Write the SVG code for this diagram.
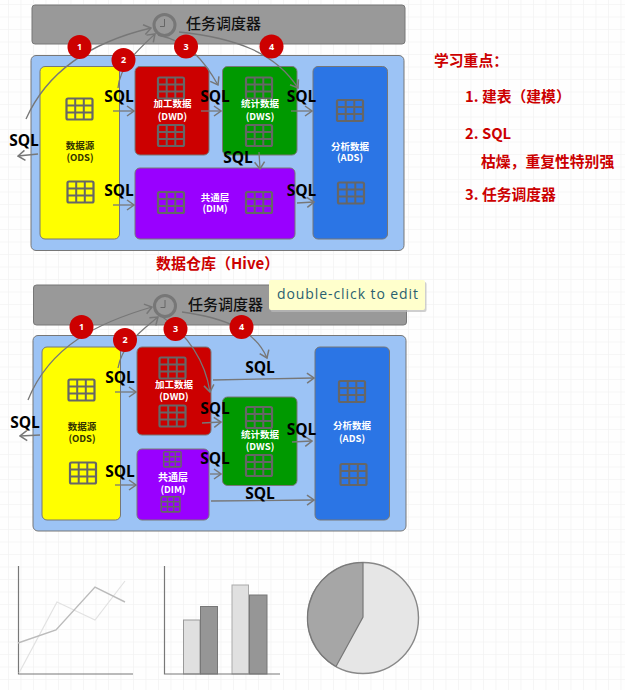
<svg xmlns="http://www.w3.org/2000/svg" xmlns:xlink="http://www.w3.org/1999/xlink" width="625" height="690" viewBox="0 0 625 690">
<style>
text{font-family:"Noto Sans CJK SC","Open Sans",sans-serif}
.box{stroke:#777;stroke-width:1}
.sql{font-family:"Open Sans","Liberation Sans",sans-serif;font-weight:700;font-size:15.500px;text-anchor:middle;fill:#000}
.lbl{font-size:9.500px;font-weight:700;text-anchor:middle;fill:#fff}
.dk{fill:#333300}
.red{font-size:14.800px;font-weight:700;fill:#CC0000}
.sch{font-size:15px;font-weight:500;fill:#111}
.num{font-size:9px;font-weight:700;fill:#fff;text-anchor:middle;font-family:"Open Sans",sans-serif}
.c{fill:none;stroke:#777;stroke-width:1.300;marker-end:url(#ah)}
.grid{fill:none;stroke:#f3f3f3;stroke-width:1.600}
</style>
<defs>
<pattern id="g" width="12.500" height="12.500" patternUnits="userSpaceOnUse" x="8" y="4"><path class="grid" d="M0 0H12.500M0 0V12.500"/></pattern>
<marker id="ah" viewBox="0 0 10 12" refX="9" refY="6" markerWidth="10" markerHeight="12" markerUnits="userSpaceOnUse" orient="auto"><path d="M2 1L9 6L2 11" fill="none" stroke="#777" stroke-width="1.500"/></marker>
<g id="tb"><rect x="1" y="1" width="26" height="21" rx="1.500" fill="none" stroke="#666" stroke-width="2.200"/><path d="M1 8H27M1 15H27M9.700 1V22M18.300 1V22" stroke="#666" stroke-width="2" fill="none"/></g>
</defs>
<rect width="625" height="690" fill="#fefefe"/>
<rect width="625" height="690" fill="url(#g)"/>

<g id="scheduler-1"><rect class="box" x="32" y="5" width="373" height="39" rx="3" fill="#999"/>
<circle cx="164.500" cy="25" r="10.500" fill="#999" stroke="#777" stroke-width="3"/><path d="M164.500 19V26.500H160" fill="none" stroke="#666" stroke-width="1"/>
<text class="sch" x="186" y="29">任务调度器</text></g>
<g id="warehouse-1"><rect class="box" x="31" y="55.500" width="373" height="195" rx="5" fill="#9CC3F5"/></g>
<g id="ods-1"><rect class="box" x="40" y="66.500" width="79.500" height="172.500" rx="5" fill="#FF0"/><use xlink:href="#tb" x="65.500" y="97.500"/><use xlink:href="#tb" x="66.500" y="180.500"/><text class="lbl dk" x="80" y="149">数据源</text><text class="lbl dk" x="80" y="161">(ODS)</text></g>
<g id="dwd-1"><rect class="box" x="135" y="66.500" width="74" height="88.500" rx="5" fill="#C00"/><use xlink:href="#tb" x="157" y="76.500"/><use xlink:href="#tb" x="157" y="124"/><text class="lbl" x="172.500" y="107">加工数据</text><text class="lbl" x="172.500" y="119.500">(DWD)</text></g>
<g id="dws-1"><rect class="box" x="222.500" y="66.500" width="74.500" height="88.500" rx="5" fill="#090"/><use xlink:href="#tb" x="245" y="76.500"/><use xlink:href="#tb" x="245" y="124"/><text class="lbl" x="260" y="107">统计数据</text><text class="lbl" x="260" y="119.500">(DWS)</text></g>
<g id="ads-1"><rect class="box" x="313" y="66.500" width="74.500" height="172.500" rx="5" fill="#2B75E5"/><use xlink:href="#tb" x="336" y="99"/><use xlink:href="#tb" x="337" y="181.500"/><text class="lbl" x="350" y="150">分析数据</text><text class="lbl" x="350" y="161">(ADS)</text></g>
<g id="dim-1"><rect class="box" x="135" y="168" width="160" height="71" rx="5" fill="#90F"/><use xlink:href="#tb" x="157" y="191"/><use xlink:href="#tb" x="245" y="191"/><text class="lbl" x="215" y="201">共通层</text><text class="lbl" x="215" y="212">(DIM)</text></g>

<g id="connectors-1">
<path class="c" d="M26 119C50 65 100 40 151 28"/>
<path class="c" d="M118 88C120 65 140 48 155 34"/>
<path class="c" d="M158 35C190 42 205 62 218 85"/>
<path class="c" d="M179 32C235 38 275 52 298 88"/>
<path class="c" d="M113 111H134"/><path class="c" d="M201 111H221"/><path class="c" d="M291 111H312"/>
<path class="c" d="M38 154L18 156"/><path class="c" d="M113 205H134"/><path class="c" d="M297 203L314 202"/><path class="c" d="M259 152L260 169"/>
</g>
<g id="labels-1">
<text class="sql" x="119" y="102">SQL</text><text class="sql" x="215" y="102">SQL</text><text class="sql" x="301.500" y="102">SQL</text><text class="sql" x="24" y="146">SQL</text><text class="sql" x="119" y="196">SQL</text><text class="sql" x="301.500" y="196">SQL</text><text class="sql" x="238" y="163">SQL</text>
<text x="156" y="269" style="font-size:15px;font-weight:700;fill:#C00">数据仓库（Hive）</text>
</g>
<g id="badges-1">
<circle cx="79.500" cy="47" r="12" fill="#C00"/><text class="num" x="79.500" y="50">1</text>
<circle cx="123.500" cy="60" r="12" fill="#C00"/><text class="num" x="123.500" y="63">2</text>
<circle cx="186" cy="46.500" r="12" fill="#C00"/><text class="num" x="186" y="49.500">3</text>
<circle cx="271.500" cy="46.500" r="12" fill="#C00"/><text class="num" x="271.500" y="49.500">4</text>
</g>

<g id="scheduler-2"><rect class="box" x="33.500" y="285" width="373" height="40" rx="3" fill="#999"/>
<circle cx="165" cy="306" r="10.500" fill="#999" stroke="#777" stroke-width="3"/><path d="M165 300V307.500H160.500" fill="none" stroke="#666" stroke-width="1"/>
<text class="sch" x="188" y="310">任务调度器</text></g>
<g id="warehouse-2"><rect class="box" x="33" y="335.500" width="373" height="195.500" rx="5" fill="#9CC3F5"/></g>
<g id="ods-2"><rect class="box" x="42" y="347" width="78.500" height="173" rx="5" fill="#FF0"/><use xlink:href="#tb" x="67.500" y="378.500"/><use xlink:href="#tb" x="69" y="461.500"/><text class="lbl dk" x="82" y="430">数据源</text><text class="lbl dk" x="82" y="442">(ODS)</text></g>
<g id="dwd-2"><rect class="box" x="137" y="347" width="74" height="88" rx="5" fill="#C00"/><use xlink:href="#tb" x="158.500" y="356.500"/><use xlink:href="#tb" x="158.500" y="404.500"/><text class="lbl" x="174" y="388">加工数据</text><text class="lbl" x="174" y="400">(DWD)</text></g>
<g id="dim-2"><rect class="box" x="137" y="449" width="72" height="71" rx="5" fill="#90F"/><use xlink:href="#tb" transform="translate(163 451) scale(.67 .72)"/><use xlink:href="#tb" transform="translate(160.500 496) scale(.72 .72)"/><text class="lbl" x="173" y="481" style="font-size:10px">共通层</text><text class="lbl" x="173" y="493">(DIM)</text></g>
<g id="dws-2"><rect class="box" x="222.500" y="397" width="74.500" height="88.500" rx="5" fill="#090"/><use xlink:href="#tb" x="245" y="406"/><use xlink:href="#tb" x="245" y="454"/><text class="lbl" x="260" y="438">统计数据</text><text class="lbl" x="260" y="450">(DWS)</text></g>
<g id="ads-2"><rect class="box" x="315" y="347" width="74.500" height="173" rx="5" fill="#2B75E5"/><use xlink:href="#tb" x="338" y="380"/><use xlink:href="#tb" x="339.500" y="463"/><text class="lbl" x="352" y="429">分析数据</text><text class="lbl" x="352" y="442">(ADS)</text></g>

<g id="connectors-2">
<path class="c" d="M28 400C50 345 100 322 152 307"/>
<path class="c" d="M118 368C122 345 140 332 158 317"/>
<path class="c" d="M160 315C188 335 205 360 210 392"/>
<path class="c" d="M182 312C225 318 255 330 267 358"/>
<path class="c" d="M40 435L20 436"/><path class="c" d="M115 392H136"/><path class="c" d="M115 485H136"/><path class="c" d="M213 380L314 378"/><path class="c" d="M202 423L221 422"/><path class="c" d="M210 474H221"/><path class="c" d="M292 442L312 441"/><path class="c" d="M211 501L314 500"/>
</g>
<g id="labels-2">
<text class="sql" x="120" y="383">SQL</text><text class="sql" x="215" y="414">SQL</text><text class="sql" x="301.500" y="435">SQL</text><text class="sql" x="25" y="428">SQL</text><text class="sql" x="120" y="477">SQL</text><text class="sql" x="215" y="464">SQL</text><text class="sql" x="260" y="373">SQL</text><text class="sql" x="260" y="499">SQL</text>
</g>
<g id="badges-2">
<circle cx="81.500" cy="327" r="12" fill="#C00"/><text class="num" x="81.500" y="330">1</text>
<circle cx="125" cy="340" r="12" fill="#C00"/><text class="num" x="125" y="343">2</text>
<circle cx="175.500" cy="329" r="12" fill="#C00"/><text class="num" x="175.500" y="332">3</text>
<circle cx="241.500" cy="327" r="12" fill="#C00"/><text class="num" x="241.500" y="330">4</text>
</g>

<g id="tooltip"><rect x="270.500" y="282" width="156" height="30" rx="2" fill="#bbb" opacity=".7"/><rect x="269" y="280" width="156" height="30" rx="2" fill="#FFFFCC"/><text x="277" y="299" style="font-family:'Open Sans',sans-serif;font-size:14px;fill:#2A5F70" textLength="141">double-click to edit</text></g>

<g id="notes">
<text class="red" x="434" y="66">学习重点：</text>
<text class="red" x="465" y="102">1. 建表（建模）</text>
<text class="red" x="465" y="139">2. SQL</text>
<text class="red" x="481" y="167">枯燥，重复性特别强</text>
<text class="red" x="465" y="200">3. 任务调度器</text>
</g>

<g id="line-chart" fill="none">
<path d="M18.500 566V674H133" stroke="#777" stroke-width="1.200"/>
<path d="M19 673L57 602L95 620L125 581" stroke="#e2e2e2" stroke-width="1.200"/>
<path d="M18 643L56 630L95 587L125 602" stroke="#bbb" stroke-width="1.400"/>
</g>
<g id="bar-chart">
<rect x="183.500" y="620" width="16.500" height="54" fill="#e0e0e0" stroke="#999"/>
<rect x="200.500" y="606.500" width="17" height="67.500" fill="#969696" stroke="#777"/>
<rect x="232" y="585" width="16.500" height="89" fill="#e0e0e0" stroke="#aaa"/>
<rect x="249.500" y="595" width="17.500" height="79" fill="#969696" stroke="#777"/>
<path d="M164.500 566V674H280" fill="none" stroke="#777" stroke-width="1.200"/>
</g>
<g id="pie-chart">
<circle cx="363" cy="618" r="55.500" fill="#e6e6e6" stroke="#888" stroke-width="1.400"/>
<path d="M363 562.500V617L336 666.500A55.500 55.500 0 0 1 363 562.500Z" fill="#a6a6a6" stroke="#777" stroke-width="1.200"/>
</g>
</svg>
